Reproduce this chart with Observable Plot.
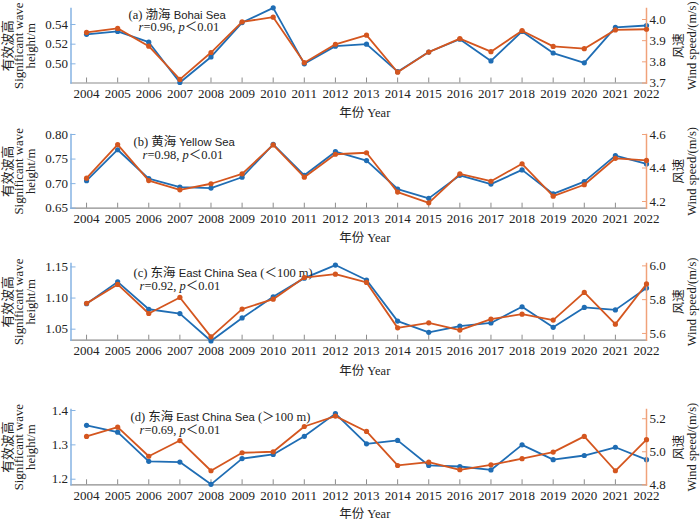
<!DOCTYPE html>
<html><head><meta charset="utf-8">
<script src="https://cdn.jsdelivr.net/npm/d3@7"></script>
<script src="https://cdn.jsdelivr.net/npm/@observablehq/plot@0.6"></script>
<style>
body{margin:0;background:#fff;}
#chart{position:relative;width:700px;height:520px;overflow:hidden;background:#fff;}
#chart svg{position:absolute;left:0;overflow:visible;}
</style></head><body><div id="chart"></div>
<script>
// ---- data ----
const years = [2004,2005,2006,2007,2008,2009,2010,2011,2012,2013,2014,2015,2016,2017,2018,2019,2020,2021,2022];

const bohaiWave  = [0.530,0.533,0.522,0.481,0.507,0.542,0.557,0.500,0.518,0.520,0.492,0.512,0.525,0.503,0.533,0.511,0.501,0.537,0.539];
const bohaiWind  = [3.939,3.958,3.874,3.717,3.844,3.989,4.011,3.796,3.883,3.926,3.751,3.846,3.910,3.848,3.947,3.873,3.862,3.951,3.954];

const yellowWave = [0.706,0.769,0.710,0.693,0.691,0.713,0.780,0.717,0.765,0.747,0.689,0.670,0.717,0.699,0.728,0.679,0.704,0.757,0.740];
const yellowWind = [4.339,4.540,4.325,4.270,4.306,4.365,4.538,4.345,4.482,4.491,4.256,4.192,4.365,4.321,4.425,4.232,4.300,4.458,4.445];

const ecsShallowWave = [1.091,1.126,1.082,1.075,1.031,1.068,1.102,1.132,1.153,1.129,1.063,1.045,1.055,1.060,1.086,1.053,1.085,1.081,1.116];
const ecsShallowWind = [5.778,5.890,5.718,5.813,5.580,5.744,5.803,5.931,5.951,5.902,5.633,5.663,5.620,5.685,5.714,5.679,5.843,5.655,5.893];

const ecsDeepWave = [1.357,1.337,1.252,1.250,1.185,1.260,1.272,1.325,1.391,1.303,1.313,1.240,1.237,1.227,1.300,1.257,1.269,1.293,1.257];
const ecsDeepWind = [5.093,5.149,4.973,5.068,4.885,4.994,5.000,5.153,5.216,5.123,4.917,4.937,4.891,4.921,4.958,4.998,5.093,4.885,5.073];

const panelPrefixes = ["(a) 渤海 ", "(b) 黄海 ", "(c) 东海 ", "(d) 东海 "];
const seaNames = ["Bohai Sea", "Yellow Sea", "East China Sea", "East China Sea"];
const seaSuffixes = ["", "", " (＜100 m)", " (＞100 m)"];
const rValues = ["0.96", "0.98", "0.92", "0.69"];
const pText = "＜0.01";

const leftTicks = [[0.50,0.52,0.54],[0.65,0.70,0.75,0.80],[1.05,1.10,1.15],[1.2,1.3,1.4]];
const rightTicks = [[3.7,3.8,3.9,4.0],[4.2,4.4,4.6],[5.6,5.8,6.0],[4.8,5.0,5.2]];
const leftDomains = [[0.4805,0.5563],[0.65,0.80],[1.0323,1.1555],[1.1837,1.403]];
const rightDomains = [[3.7,4.052],[4.16,4.6],[5.56,6.014],[4.8,5.256]];
const leftFormats = [".2f",".2f",".2f",".1f"];
const rightFormats = [".1f",".1f",".1f",".1f"];

const xLabel = "年份 Year";
const leftLabel = "有效波高\nSignificant wave\nheight/m";
const rightLabel = "风速\nWind speed/(m/s)";

const waveSeries = [bohaiWave, yellowWave, ecsShallowWave, ecsDeepWave];
const windSeries = [bohaiWind, yellowWind, ecsShallowWind, ecsDeepWind];

// ---- layout / style ----
const SERIF = "'Liberation Serif','Times New Roman','Noto Sans CJK SC',serif";
const SANS = "'Liberation Sans',Arial,'Noto Sans CJK SC',sans-serif";
const BLUE = "#1f6db4", ORANGE = "#d4561f";
const BLUE_AX = "#86b3e3", ORANGE_AX = "#f0a27a", GRAY_AX = "#8c8c8c";
const H = 119;
const layout = [
  {top: 0,     mt: 8, h: 74.5, tdx: 57.5, tdy: 6.7, sdx: 67.5, sdy: 18.4, ydy: 29.5},
  {top: 126,   mt: 8, h: 73.7, tdx: 62.5, tdy: 7.0, sdx: 71.5, sdy: 20.0, ydy: 30},
  {top: 255.3, mt: 8, h: 76.7, tdx: 62.5, tdy: 9.4, sdx: 68.5, sdy: 22.7, ydy: 31},
  {top: 401,   mt: 8, h: 75.3, tdx: 59.5, tdy: 7.7, sdx: 68.5, sdy: 20.0, ydy: 28.8}
];
const ML = 70.5, MR = 54;

const chart = document.getElementById("chart");

function richify(svg, plain, parts) {
  for (const t of svg.querySelectorAll("text")) {
    if (t.textContent === plain) {
      t.textContent = "";
      for (const [s, st] of parts) {
        if (!s) continue;
        const ts = document.createElementNS("http://www.w3.org/2000/svg", "tspan");
        ts.textContent = s;
        if (st.italic) ts.setAttribute("font-style", "italic");
        if (st.sans) ts.setAttribute("font-family", SANS);
        if (st.size) ts.setAttribute("font-size", st.size);
        t.appendChild(ts);
      }
    }
  }
}

for (let i = 0; i < 4; i++) {
  const L = layout[i];
  const mb = H - L.mt - L.h;
  const wave = years.map((y, j) => ({year: y, v: waveSeries[i][j]}));
  const wind = years.map((y, j) => ({year: y, v: windSeries[i][j]}));
  const title = panelPrefixes[i] + seaNames[i] + seaSuffixes[i];
  const stat = "r=" + rValues[i] + ", p" + pText;
  const common = {
    width: 700, height: H, marginLeft: ML, marginRight: MR, marginTop: L.mt, marginBottom: mb,
    style: {fontFamily: SERIF, fontSize: "13px", color: "#222", background: "transparent", overflow: "visible"},
    x: {domain: [2003.5, 2022], axis: null}
  };
  const base = Plot.plot({
    ...common,
    y: {domain: leftDomains[i], axis: null},
    marks: [
      Plot.frame({anchor: "bottom", stroke: GRAY_AX, strokeWidth: 1.2}),
      Plot.frame({anchor: "left", stroke: BLUE_AX, strokeWidth: 1.5}),
      Plot.axisX(years, {tickSize: -5, tickPadding: 11, tickFormat: d3.format("d"), stroke: GRAY_AX, fill: "#222", label: null}),
      Plot.axisY(leftTicks[i], {anchor: "left", tickSize: -5, tickPadding: 8, tickFormat: d3.format(leftFormats[i]), stroke: BLUE_AX, fill: "#222", label: null}),
      Plot.text([leftLabel], {frameAnchor: "left", rotate: -90, dx: -51.5, lineHeight: 0.9, textAnchor: "middle", lineAnchor: "middle", fontSize: 12.8, fill: "#222"}),
      Plot.text([xLabel], {frameAnchor: "bottom", dy: L.ydy, dx: 6, lineAnchor: "middle", fontSize: 12.5, fill: "#222"}),
      Plot.line(wave, {x: "year", y: "v", stroke: BLUE, strokeWidth: 1.8}),
      Plot.dot(wave, {x: "year", y: "v", r: 2.6, fill: BLUE}),
      Plot.text([title], {frameAnchor: "top-left", dx: L.tdx, dy: L.tdy, textAnchor: "start", lineAnchor: "middle", fontSize: 12.5, fill: "#222"}),
      Plot.text([stat], {frameAnchor: "top-left", dx: L.sdx, dy: L.sdy, textAnchor: "start", lineAnchor: "middle", fontSize: 12.5, fill: "#222"})
    ]
  });
  const over = Plot.plot({
    ...common,
    y: {domain: rightDomains[i], axis: null},
    marks: [
      Plot.frame({anchor: "right", stroke: ORANGE_AX, strokeWidth: 1.5}),
      Plot.axisY(rightTicks[i], {anchor: "right", tickSize: -5, tickPadding: 8, tickFormat: d3.format(rightFormats[i]), stroke: ORANGE_AX, fill: "#222", label: null}),
      Plot.text([rightLabel], {frameAnchor: "right", rotate: -90, dx: 39, lineHeight: 1.05, textAnchor: "middle", lineAnchor: "middle", fontSize: 12.5, fill: "#222"}),
      Plot.line(wind, {x: "year", y: "v", stroke: ORANGE, strokeWidth: 1.8}),
      Plot.dot(wind, {x: "year", y: "v", r: 2.6, fill: ORANGE})
    ]
  });
  base.style.top = L.top + "px";
  over.style.top = L.top + "px";
  richify(base, title, [[panelPrefixes[i], {}], [seaNames[i], {sans: true, size: 11.3}], [seaSuffixes[i], {}]]);
  richify(base, stat, [["r", {italic: true}], ["=" + rValues[i] + ", ", {}], ["p", {italic: true}], [pText, {}]]);
  chart.appendChild(base);
  chart.appendChild(over);
}
</script>
</body></html>
